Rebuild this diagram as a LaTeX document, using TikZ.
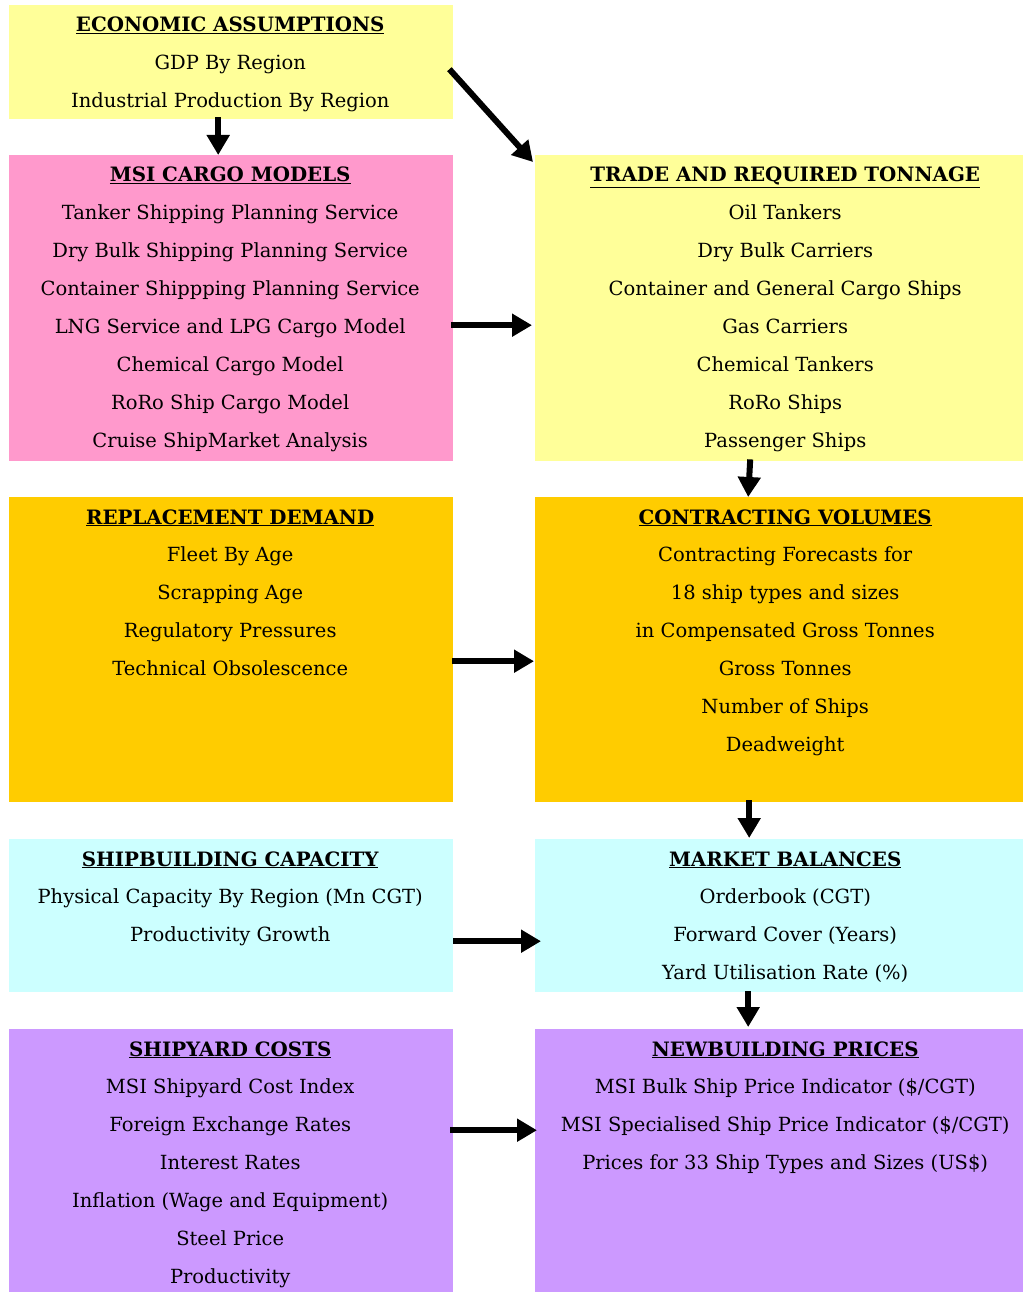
\documentclass[tikz,border=0pt]{standalone}
\usepackage{fontspec}
\setmainfont{DejaVu Serif}
\usetikzlibrary{arrows.meta}
\definecolor{ecoY}{HTML}{FFFF99}
\definecolor{pinkB}{HTML}{FF99CC}
\definecolor{oraB}{HTML}{FFCC00}
\definecolor{cyanB}{HTML}{CCFFFF}
\definecolor{purB}{HTML}{CC99FF}
\tikzset{
  box/.style={draw=none,anchor=north west,inner sep=0pt},
  line/.style={anchor=base,inner sep=0pt,font=\fontsize{19.5}{22}\selectfont},
  head/.style={anchor=base,inner sep=0pt,font=\bfseries\fontsize{19.8}{22}\selectfont},
  arr/.style={line width=6pt,-{Triangle[length=20pt,width=22pt]}},
}
\newcommand{\hd}[1]{\underline{#1}}
% \boxtext{name}{xshift}{heading}{lines}
\newcommand{\boxtext}[4]{%
  \node[head] (#1-h) at ([xshift=#2,yshift=-27pt]#1.north) {\hd{#3}};
  \foreach \t [count=\i] in {#4} {
    \node[line] (#1-\i) at ([xshift=#2,yshift=-26.5pt-38pt*\i]#1.north) {\t};
  }
}
\begin{document}
\begin{tikzpicture}[x=1pt,y=1pt]
\useasboundingbox (0,0) rectangle (1024,-1292);
\fill[white] (0,0) rectangle (1024,-1292);
% boxes
\node[box,fill=ecoY,minimum width=444pt,minimum height=114pt] (econ) at (9,-5) {};
\node[box,fill=pinkB,minimum width=444pt,minimum height=306pt] (msi) at (9,-155) {};
\node[box,fill=ecoY,minimum width=488pt,minimum height=306pt] (trade) at (535,-155) {};
\node[box,fill=oraB,minimum width=444pt,minimum height=305pt] (repl) at (9,-497) {};
\node[box,fill=oraB,minimum width=488pt,minimum height=305pt] (contr) at (535,-497) {};
\node[box,fill=cyanB,minimum width=444pt,minimum height=153pt] (shipb) at (9,-839) {};
\node[box,fill=cyanB,minimum width=488pt,minimum height=153pt] (market) at (535,-839) {};
\node[box,fill=purB,minimum width=444pt,minimum height=263pt] (costs) at (9,-1029) {};
\node[box,fill=purB,minimum width=488pt,minimum height=263pt] (newb) at (535,-1029) {};
% texts
\boxtext{econ}{-1pt}{ECONOMIC ASSUMPTIONS}{GDP By Region,Industrial Production By Region}
\boxtext{msi}{-1pt}{MSI CARGO MODELS}{Tanker Shipping Planning Service,Dry Bulk Shipping Planning Service,Container Shippping Planning Service,LNG Service and LPG Cargo Model,Chemical Cargo Model,RoRo Ship Cargo Model,Cruise ShipMarket Analysis}
\boxtext{trade}{6pt}{TRADE AND REQUIRED TONNAGE}{Oil Tankers,Dry Bulk Carriers,Container and General Cargo Ships,Gas Carriers,Chemical Tankers,RoRo Ships,Passenger Ships}
\boxtext{repl}{-1pt}{REPLACEMENT DEMAND}{Fleet By Age,Scrapping Age,Regulatory Pressures,Technical Obsolescence}
\boxtext{contr}{6pt}{CONTRACTING VOLUMES}{Contracting Forecasts for,18 ship types and sizes,in Compensated Gross Tonnes,Gross Tonnes,Number of Ships,Deadweight}
\boxtext{shipb}{-1pt}{SHIPBUILDING CAPACITY}{Physical Capacity By Region (Mn CGT),Productivity Growth}
\boxtext{market}{6pt}{MARKET BALANCES}{Orderbook (CGT),Forward Cover (Years),Yard Utilisation Rate (\%)}
\boxtext{costs}{-1pt}{SHIPYARD COSTS}{MSI Shipyard Cost Index,Foreign Exchange  Rates,Interest Rates,Inflation (Wage and Equipment),Steel Price,Productivity}
\boxtext{newb}{6pt}{NEWBUILDING PRICES}{MSI Bulk Ship Price Indicator (\$/CGT),MSI Specialised Ship Price Indicator (\$/CGT),Prices for 33 Ship Types and Sizes (US\$)}
% arrows
\draw[arr] ([shift={(-13,2)}]econ.south) -- ([xshift=-13]msi.north);
\draw[arr] ([shift={(-4,-7)}]econ.east) -- ([shift={(-2,-7)}]trade.north west);
\draw[arr] ([shift={(-2,-17)}]msi.east) -- ([shift={(-3,-17)}]trade.west);
\draw[arr] ([shift={(-29,2)}]trade.south) -- ([xshift=-31]contr.north);
\draw[arr] ([shift={(-1,-11.5)}]repl.east) -- ([shift={(-1,-11.5)}]contr.west);
\draw[arr] ([shift={(-30,2)}]contr.south) -- ([shift={(-30,1)}]market.north);
\draw[arr] ([yshift=-25.5]shipb.east) -- ([shift={(6,-25.5)}]market.west);
\draw[arr] ([shift={(-31,1)}]market.south) -- ([shift={(-31,2)}]newb.north);
\draw[arr] ([shift={(-3,30.5)}]costs.east) -- ([shift={(2,30.5)}]newb.west);
\end{tikzpicture}
\end{document}
